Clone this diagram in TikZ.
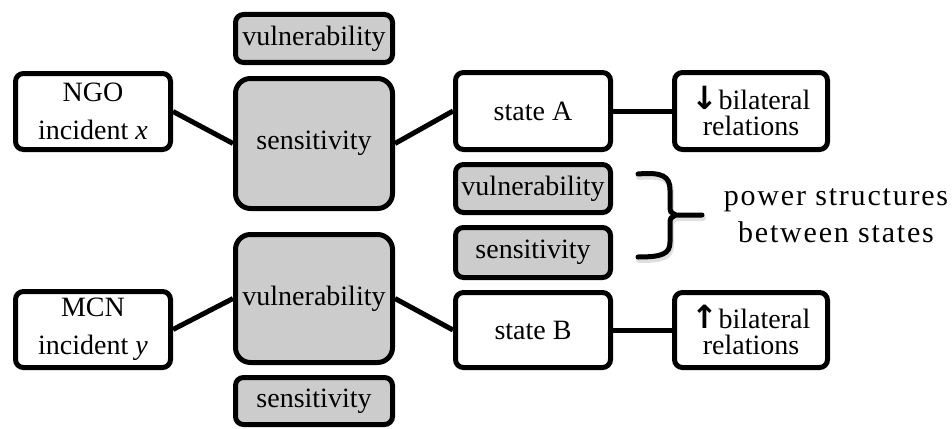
\documentclass[tikz,border=0pt]{standalone}
\usepackage{fontspec}
\setmainfont{Liberation Serif}
\newfontfamily\arrowfont{DejaVu Sans}
\newfontfamily\bracefont[LetterSpace=6]{Liberation Serif}
\definecolor{boxgray}{RGB}{204,204,204}
\begin{document}
\begin{tikzpicture}
[x=1pt,y=-1pt,
  boxdecorate/.style={shape=rectangle,rounded corners=8pt,draw,line width=5pt,
    fill=white,align=center,inner sep=0pt,font=\fontsize{28}{32}\selectfont},%
  graydecorate/.style={boxdecorate,fill=boxgray},%
  linedecorate/.style={-,line width=5pt},%
  bracedecorate/.style={line width=5pt,line cap=round}]
\useasboundingbox (0,0) rectangle (952,428);
%% gray boxes
\foreach \nodename/\x/\y/\w/\h/\r/\txt in {vultop/314/38.5/157/48/8/vulnerability,
    sensbig/314/143.5/157/130/15/sensitivity,
    vulmid/533/188.5/155/48/8/vulnerability,
    sensmid/533/252.5/155/50/8/sensitivity,
    vulbig/314/298.5/157/128/15/vulnerability,
    sensbot/314/401/157/47/8/sensitivity} {
  \node (\nodename) at (\x,\y) [graydecorate,rounded corners=\r pt,
    minimum width=\w pt,minimum height=\h pt] {\txt};
}
%% white boxes
\node (ngo) at (93,111.5) [boxdecorate,minimum width=155pt,minimum height=76pt]
  {NGO\\[6pt]incident \textit{x}};
\node (mcn) at (93,329.5) [boxdecorate,minimum width=155pt,minimum height=76pt]
  {MCN\\[6pt]incident \textit{y}};
\node (statea) at (533,111) [boxdecorate,minimum width=155pt,minimum height=77pt] {state A};
\node (stateb) at (533,330) [boxdecorate,minimum width=155pt,minimum height=75pt] {state B};
\node (downrel) at (751,111) [boxdecorate,minimum width=153pt,minimum height=77pt,
  font=\fontsize{28}{26}\selectfont]
  {{\arrowfont\bfseries\fontsize{32}{26}\selectfont↓}bilateral\\relations};
\node (uprel) at (751,330) [boxdecorate,minimum width=153pt,minimum height=75pt,
  font=\fontsize{28}{26}\selectfont]
  {{\arrowfont\bfseries\fontsize{32}{26}\selectfont↑}bilateral\\relations};
%% edges
\path
\foreach \startnode/\endnode in {ngo/sensbig, sensbig/statea, statea/downrel,
    mcn/vulbig, vulbig/stateb, stateb/uprel} {
  (\startnode.east) edge[linedecorate] (\endnode.west)
};
%% brace and its label
\draw[bracedecorate,gray!25,line width=6pt,xshift=1pt,yshift=-3pt]
  (638,174) .. controls (662,172) and (670,176) .. (670,190) -- (670,205)
  .. controls (670,212) .. (676,215) -- (702,215)
  (676,215) .. controls (670,218) .. (670,225) -- (670,242)
  .. controls (670,254) and (662,257) .. (638,257);
\draw[bracedecorate]
  (638,174) .. controls (662,172) and (670,176) .. (670,190) -- (670,205)
  .. controls (670,212) .. (676,215) -- (702,215)
  (676,215) .. controls (670,218) .. (670,225) -- (670,242)
  .. controls (670,254) and (662,257) .. (638,257);
\node (powertext) at (836,216) [align=center,font=\bracefont\fontsize{30}{37}\selectfont]
  {power structures\\between states};
\end{tikzpicture}
\end{document}
